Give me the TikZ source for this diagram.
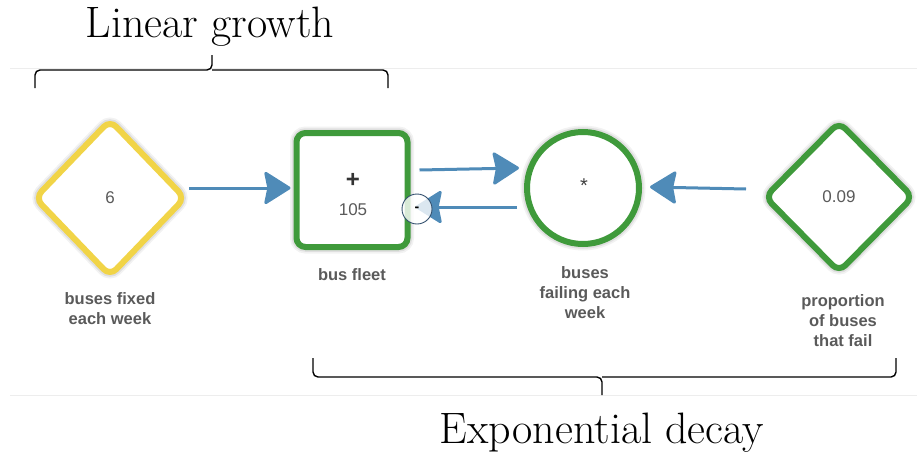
\documentclass[tikz,border=0pt]{standalone}
\usepackage{fontspec}
\newfontfamily\labelfont{Liberation Sans}
\usetikzlibrary{shapes.geometric,arrows.meta,calc}
\definecolor{flowblue}{HTML}{4F8BB8}
\definecolor{stockgreen}{HTML}{3F9A3B}
\definecolor{paramyellow}{HTML}{F1D447}
\definecolor{labelgray}{HTML}{5A5A5A}
\definecolor{rulegray}{HTML}{EDEDED}
\definecolor{signnavy}{HTML}{33506E}

\begin{document}
\begin{tikzpicture}[x=1pt,y=-1pt,
  halo/.style={preaction={draw=black,line width=13pt,opacity=0.05},
               preaction={draw=black,line width=9.5pt,opacity=0.08}},
  element/.style={fill=white,line width=6pt,inner sep=0pt,halo,
                  font=\labelfont\fontsize{17}{20}\selectfont,text=labelgray},
  param/.style={element,diamond,rounded corners=9pt},
  stock/.style={element,rectangle,rounded corners=9pt,draw=stockgreen},
  converter/.style={element,circle,draw=stockgreen},
  caption/.style={align=center,text=labelgray,
                  font=\labelfont\bfseries\fontsize{16.5}{20}\selectfont},
  flow/.style={draw=flowblue,line width=3pt,
               -{Stealth[length=28pt,width=35pt,inset=3.5pt,round]}},
  bracket/.style={draw=black,line width=1.4pt,rounded corners=5pt},
  heading/.style={font=\fontsize{44}{48}\selectfont,anchor=base}
]
\useasboundingbox (0,0) rectangle (917,455);

% faint separator rules
\draw[rulegray,line width=1pt] (10,68) -- (917,68);
\draw[rulegray,line width=1pt] (10,395) -- (917,395);

% model elements
\node[param,draw=paramyellow,minimum width=152pt,minimum height=158pt] (fixed) at (110,198) {6};
\node[stock,minimum width=111pt,minimum height=114pt] (fleet) at (352,190) {};
\node[font=\labelfont\bfseries\fontsize{24}{24}\selectfont,text=black!80] (plus) at (353,180) {+};
\node[font=\labelfont\fontsize{17}{20}\selectfont,text=labelgray] (count) at (353,210) {105};
\node[converter,minimum size=112pt] (fail) at (583,188) {};
\node[font=\labelfont\fontsize{20}{20}\selectfont,text=black!75] (times) at (584,186) {*};
\node[param,draw=stockgreen,minimum width=150pt,minimum height=152pt] (prop) at (839,197) {0.09};

% element captions
\node[caption] (capfixed) at (110,309) {buses fixed\\each week};
\node[caption] (capfleet) at (352,275) {bus fleet};
\node[caption] (capfail) at (585,293) {buses\\failing each\\week};
\node[caption] (capprop) at (843,321) {proportion\\of buses\\that fail};

% connectors
\draw[flow] ($(fixed.east)+(0,-10)$) -- ($(fleet.west)+(-3,-2)$);
\draw[flow] ($(fleet.east)+(9,-20)$) -- ($(fail.west)+(-5,-20)$);
\draw[flow] ($(fail.west)+(-7,19)$) -- ($(fleet.east)+(5,17)$);
\draw[flow] ($(prop.west)+(-15,-8)$) -- ($(fail.east)+(8,-1)$);

% polarity marker on the outflow
\node[circle,draw=signnavy,line width=0.9pt,fill=white,fill opacity=0.8,
      text opacity=1,minimum size=30pt,inner sep=0pt,
      font=\labelfont\bfseries\fontsize{14}{14}\selectfont] (minus) at (417,209) {-};

% grouping brackets and headings
\coordinate (topmid) at (212,55);
\draw[bracket] (35,88) -- (35,70) -- (212,70) -- (topmid);
\draw[bracket] (388,88) -- (388,70) -- (212,70);
\node[heading] (linear) at (210,37) {Linear growth};

\coordinate (botmid) at (602,395);
\draw[bracket] (313,358) -- (313,377) -- (602,377) -- (botmid);
\draw[bracket] (896,358) -- (896,377) -- (602,377);
\node[heading] (expo) at (602,443) {Exponential decay};
\end{tikzpicture}
\end{document}
